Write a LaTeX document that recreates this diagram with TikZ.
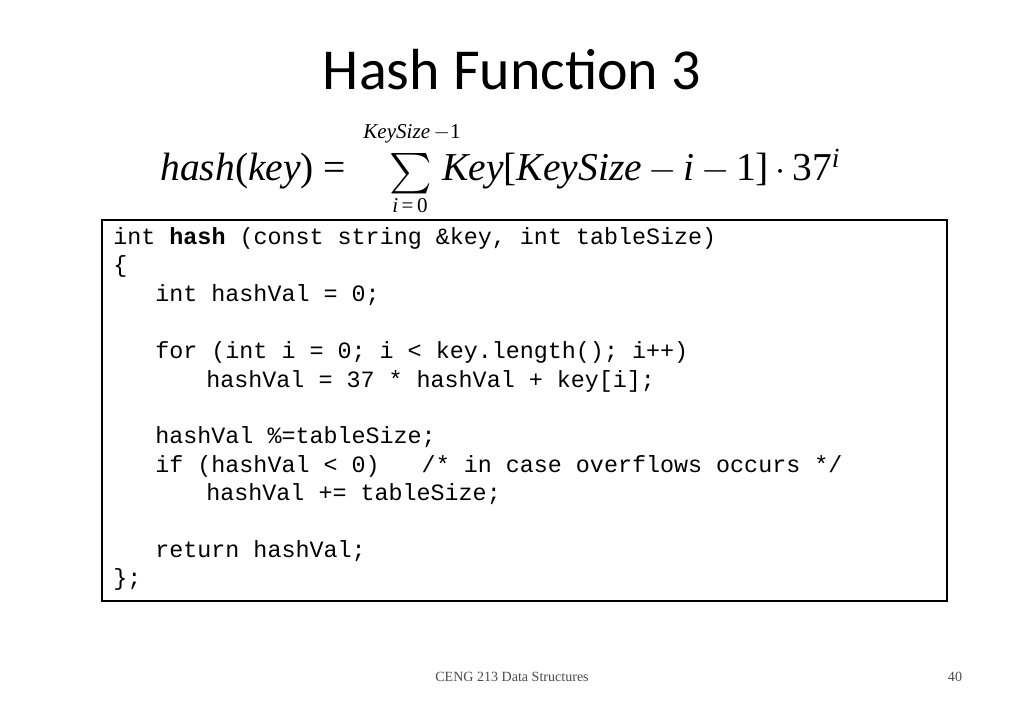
\documentclass[tikz,border=0pt]{standalone}
\usepackage{fontspec}
\setmainfont{Liberation Serif}
\setmonofont{Liberation Mono}
\newfontfamily\titlefont{Carlito}
\usetikzlibrary{positioning}
\begin{document}
\begin{tikzpicture}[x=0.02cm,y=-0.02cm,
    codeline/.style={anchor=base west, inner sep=0pt, font=\ttfamily\fontsize{13.3}{16}\selectfont},
    formula/.style={inner sep=0pt, font=\fontsize{22.5}{24}\selectfont}
  ]
  \useasboundingbox (0,0) rectangle (1024,709);
  % title
  \node[inner sep=0pt, font=\titlefont\fontsize{33}{36}\selectfont] (title) at (512,70) {Hash Function 3};
  % formula
  \node[formula, anchor=base west] (lhs) at (160,181) {\textit{hash}(\textit{key}) =};
  \node[inner sep=0pt, scale=2.3] (sum) at (411,174) {$\sum$};
  \node[inner sep=0pt, font=\fontsize{12}{13}\selectfont] (upper) at (412,134) {\textit{KeySize}\,$-$1};
  \node[inner sep=0pt, font=\fontsize{12}{13}\selectfont] (lower) at (410,206) {\textit{i}\,=\,0};
  \node[formula, anchor=base west] (rhs) at (442,181) {\textit{Key}[\textit{KeySize}\,$-$\,\textit{i}\,$-$\,1]\,$\cdot$\,37\textsuperscript{\textit{i}}};
  % code box
  \draw[line width=1pt] (102,220) rectangle (947,601);
  \node[codeline] (l1) at (113,245) {int \textbf{hash} (const string \&key, int tableSize)};
  \node[codeline] (l2) at (113,273) {\{};
  \node[codeline] (l3) at (155,302) {int hashVal = 0;};
  \node[codeline] (l4) at (155,358) {for (int i = 0; i < key.length(); i++)};
  \node[codeline] (l5) at (206,387) {hashVal = 37 * hashVal + key[i];};
  \node[codeline] (l6) at (155,443) {hashVal \%=tableSize;};
  \node[codeline] (l7) at (155,472) {if (hashVal < 0)~~~/* in case overflows occurs */};
  \node[codeline] (l8) at (206,500) {hashVal += tableSize;};
  \node[codeline] (l9) at (155,557) {return hashVal;};
  \node[codeline] (l10) at (113,585) {\};};
  % footer
  \node[inner sep=0pt, font=\fontsize{8}{10}\selectfont, text=black!70] (foot) at (512,677) {CENG 213 Data Structures};
  \node[inner sep=0pt, font=\fontsize{8}{10}\selectfont, text=black!70] (page) at (955,677) {40};
\end{tikzpicture}
\end{document}
